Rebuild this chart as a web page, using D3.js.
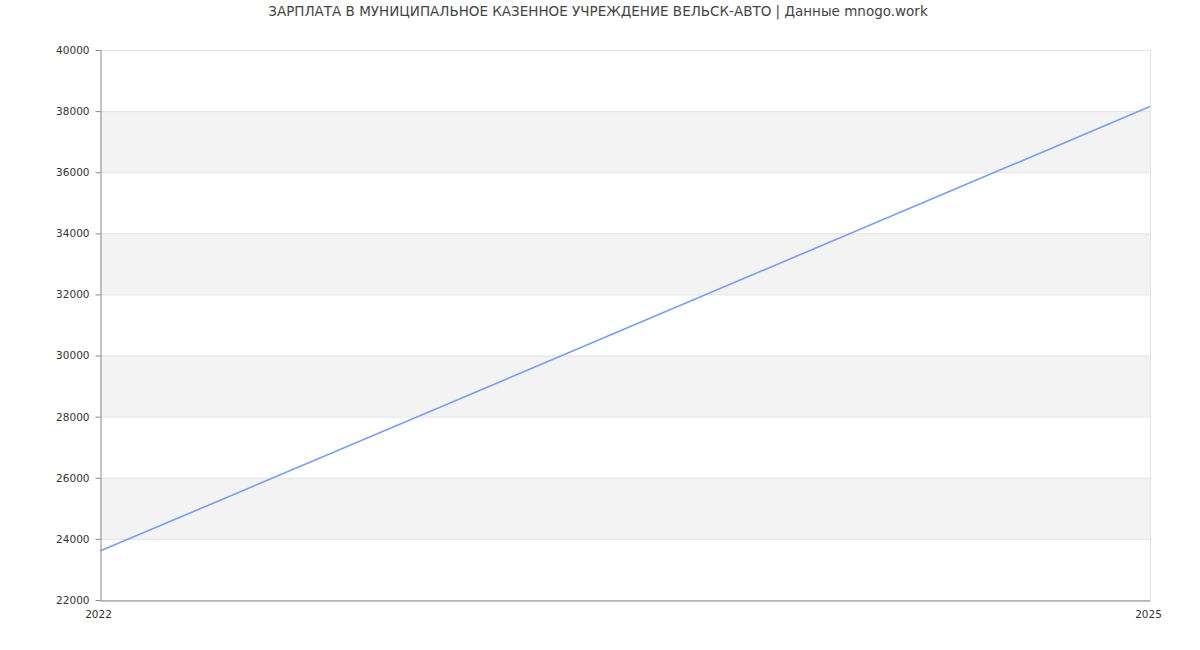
<!DOCTYPE html>
<html>
<head>
<meta charset="utf-8">
<script src="https://cdn.jsdelivr.net/npm/d3@7"></script>
<style>
    body { margin: 0; background: #fff; }
    svg { display: block; font-family: "DejaVu Sans", sans-serif; }
</style>
</head>
<body>
<div id="chart"></div>
<script>
const titleText = "ЗАРПЛАТА В МУНИЦИПАЛЬНОЕ КАЗЕННОЕ УЧРЕЖДЕНИЕ ВЕЛЬСК-АВТО | Данные mnogo.work";
const years = [2022, 2025];
const salaries = [23600, 38150];
const yTicks = [22000, 24000, 26000, 28000, 30000, 32000, 34000, 36000, 38000, 40000];

const width = 1200, height = 650;
const margin = { top: 50, right: 50, bottom: 50, left: 100 };
const fontFamily = "DejaVu Sans, sans-serif";

const svg = d3.select("#chart").append("svg")
    .attr("width", width)
    .attr("height", height);

const x = d3.scaleLinear()
    .domain(d3.extent(years))
    .range([margin.left, width - margin.right]);

const y = d3.scaleLinear()
    .domain([22000, 40000])
    .range([height - margin.bottom, margin.top]);

// alternating bands
const bands = d3.pairs(yTicks).filter((d, i) => i % 2 === 1);
svg.append("g").selectAll("rect")
    .data(bands)
    .enter().append("rect")
    .attr("x", x.range()[0])
    .attr("width", x.range()[1] - x.range()[0])
    .attr("y", d => y(d[1]))
    .attr("height", d => y(d[0]) - y(d[1]))
    .attr("fill", "#f3f3f3");

// grid lines
svg.append("g").selectAll("line")
    .data(yTicks)
    .enter().append("line")
    .attr("x1", x.range()[0])
    .attr("x2", x.range()[1])
    .attr("y1", d => y(d) + 0.5)
    .attr("y2", d => y(d) + 0.5)
    .attr("stroke", "#e3e3e3");

// right border
svg.append("line")
    .attr("x1", x.range()[1] + 0.5).attr("x2", x.range()[1] + 0.5)
    .attr("y1", y.range()[1]).attr("y2", y.range()[0])
    .attr("stroke", "#e3e3e3");

// y axis
const yAxis = svg.append("g")
    .attr("transform", `translate(${margin.left + 0.5},0)`)
    .call(d3.axisLeft(y).tickValues(yTicks).tickSize(5).tickSizeOuter(0).tickPadding(6).tickFormat(d3.format("d")))
    .attr("font-family", fontFamily)
    .attr("font-size", 10.5);
yAxis.select(".domain").attr("stroke", "#888");
yAxis.selectAll(".tick line").attr("stroke", "#888");
yAxis.selectAll(".tick text").attr("fill", "#333");

// x axis
const xAxis = svg.append("g")
    .attr("transform", `translate(0,${height - margin.bottom + 0.5})`)
    .call(d3.axisBottom(x).tickValues(years).tickSize(0).tickPadding(10).tickFormat(d3.format("d")))
    .attr("font-family", fontFamily)
    .attr("font-size", 10.5);
xAxis.select(".domain").attr("stroke", "#888");
xAxis.selectAll(".tick text").attr("fill", "#333").attr("dx", -2);

// line
const line = d3.line()
    .x((d, i) => x(years[i]))
    .y(d => y(d));

svg.append("path")
    .datum(salaries)
    .attr("fill", "none")
    .attr("stroke", "#779ff5")
    .attr("stroke-width", 1.6)
    .attr("d", line);

// title
svg.append("text")
    .attr("x", width / 2 - 2)
    .attr("y", 16)
    .attr("text-anchor", "middle")
    .attr("fill", "#444")
    .attr("font-family", fontFamily)
    .style("font-size", "13.5px")
    .text(titleText);
</script>
</body>
</html>
